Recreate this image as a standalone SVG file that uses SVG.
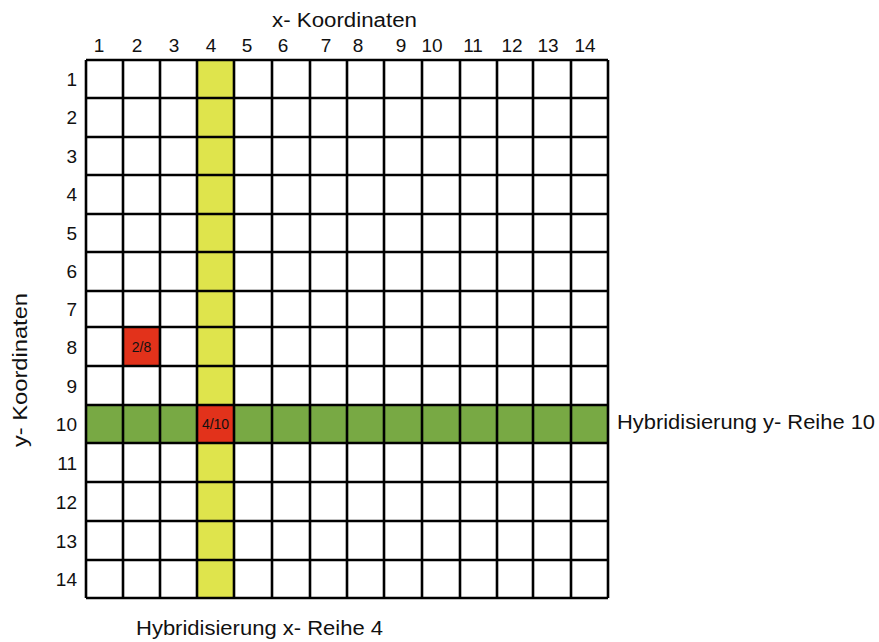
<svg xmlns="http://www.w3.org/2000/svg" width="879" height="642" viewBox="0 0 879 642">
<style>
text{font-family:"Liberation Sans",Arial,sans-serif;fill:#111}
.lbl{font-size:20px}
.num{font-size:19px}
.cell{font-size:14px;text-anchor:middle}
.grid line{stroke:#000;stroke-width:2.6}
</style>
<rect width="879" height="642" fill="#fff"/>
<g id="highlights">
<rect x="197" y="60" width="37" height="538" fill="#dfe44c"/>
<rect x="86" y="405" width="522" height="38" fill="#78a944"/>
<rect x="123" y="327" width="37" height="39" fill="#e2321b"/>
<rect x="197" y="405" width="37" height="38" fill="#e2321b"/>
</g>
<g id="grid" class="grid">
<line x1="86" y1="60" x2="86" y2="598"/>
<line x1="123" y1="60" x2="123" y2="598"/>
<line x1="160" y1="60" x2="160" y2="598"/>
<line x1="197" y1="60" x2="197" y2="598"/>
<line x1="234" y1="60" x2="234" y2="598"/>
<line x1="272" y1="60" x2="272" y2="598"/>
<line x1="310" y1="60" x2="310" y2="598"/>
<line x1="347" y1="60" x2="347" y2="598"/>
<line x1="384" y1="60" x2="384" y2="598"/>
<line x1="422" y1="60" x2="422" y2="598"/>
<line x1="460" y1="60" x2="460" y2="598"/>
<line x1="497" y1="60" x2="497" y2="598"/>
<line x1="533" y1="60" x2="533" y2="598"/>
<line x1="571" y1="60" x2="571" y2="598"/>
<line x1="608" y1="60" x2="608" y2="598"/>
<line x1="86" y1="60" x2="608" y2="60"/>
<line x1="86" y1="98" x2="608" y2="98"/>
<line x1="86" y1="137" x2="608" y2="137"/>
<line x1="86" y1="175" x2="608" y2="175"/>
<line x1="86" y1="214" x2="608" y2="214"/>
<line x1="86" y1="252" x2="608" y2="252"/>
<line x1="86" y1="291" x2="608" y2="291"/>
<line x1="86" y1="327" x2="608" y2="327"/>
<line x1="86" y1="366" x2="608" y2="366"/>
<line x1="86" y1="405" x2="608" y2="405"/>
<line x1="86" y1="443" x2="608" y2="443"/>
<line x1="86" y1="482" x2="608" y2="482"/>
<line x1="86" y1="521" x2="608" y2="521"/>
<line x1="86" y1="560" x2="608" y2="560"/>
<line x1="86" y1="598" x2="608" y2="598"/>
</g>
<g id="cell-labels">
<text class="cell" x="141.5" y="352">2/8</text>
<text class="cell" x="215.5" y="429">4/10</text>
</g>
<g id="x-axis">
<text class="lbl" x="272" y="27" textLength="145" lengthAdjust="spacingAndGlyphs">x- Koordinaten</text>
<g class="num" text-anchor="middle">
<text x="99" y="52">1</text>
<text x="137" y="52">2</text>
<text x="174" y="52">3</text>
<text x="211" y="52">4</text>
<text x="247" y="52">5</text>
<text x="283" y="52">6</text>
<text x="326" y="52">7</text>
<text x="358" y="52">8</text>
<text x="401" y="52">9</text>
<text x="432" y="52">10</text>
<text x="473" y="52">11</text>
<text x="512" y="52">12</text>
<text x="548" y="52">13</text>
<text x="585" y="52">14</text>
</g>
</g>
<g id="y-axis">
<text class="lbl" transform="translate(27,447) rotate(-90)" textLength="154" lengthAdjust="spacingAndGlyphs">y- Koordinaten</text>
<g class="num" text-anchor="end">
<text x="77" y="86">1</text>
<text x="77" y="124">2</text>
<text x="77" y="163">3</text>
<text x="77" y="201">4</text>
<text x="77" y="240">5</text>
<text x="77" y="278">6</text>
<text x="77" y="316">7</text>
<text x="77" y="354">8</text>
<text x="77" y="393">9</text>
<text x="77" y="431">10</text>
<text x="77" y="470">11</text>
<text x="77" y="509">12</text>
<text x="77" y="548">13</text>
<text x="77" y="586">14</text>
</g>
</g>
<g id="hyb-y"><text class="lbl" x="617" y="429" textLength="258" lengthAdjust="spacingAndGlyphs">Hybridisierung y- Reihe 10</text></g>
<g id="hyb-x"><text class="lbl" x="136" y="635" textLength="247" lengthAdjust="spacingAndGlyphs">Hybridisierung x- Reihe 4</text></g>
</svg>
